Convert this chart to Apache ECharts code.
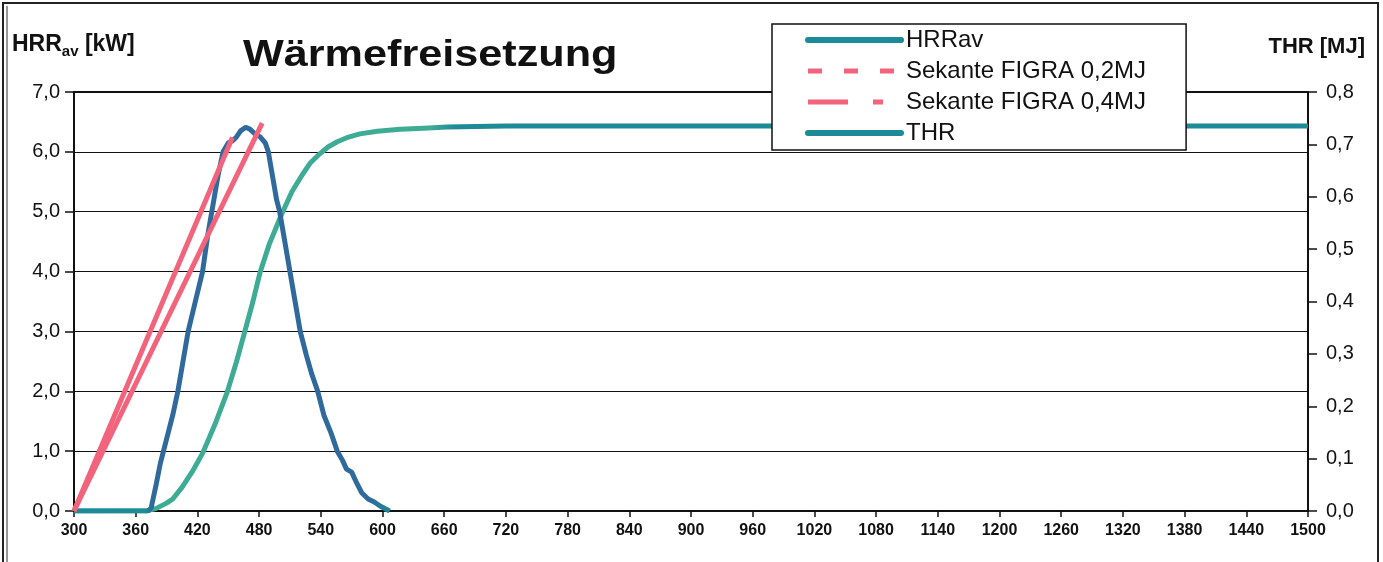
<!DOCTYPE html>
<html><head><meta charset="utf-8">
<script src="https://cdn.jsdelivr.net/npm/echarts@6/dist/echarts.min.js"></script>
<style>html,body{margin:0;padding:0;background:#fff}#c{width:1383px;height:562px}</style>
</head><body><div id="c"></div>
<script>
// ---- data ----
const hrrTime  = [300, 360, 372, 375, 380, 384, 390, 396, 401, 406, 411, 418, 425, 430, 434, 440, 445, 450, 454, 458, 462, 467, 471, 476, 481, 486, 489, 493, 497, 500, 505, 510, 515, 520, 526, 531, 537, 543, 550, 556, 561, 565, 570, 574, 580, 586, 592, 598, 607];
const hrrValue = [0, 0, 0, 0.05, 0.45, 0.8, 1.2, 1.6, 2.0, 2.5, 3.0, 3.5, 4.0, 4.6, 5.0, 5.6, 6.0, 6.15, 6.18, 6.25, 6.35, 6.41, 6.38, 6.3, 6.25, 6.15, 6.0, 5.6, 5.2, 5.0, 4.5, 4.0, 3.5, 3.0, 2.6, 2.3, 2.0, 1.6, 1.3, 1.0, 0.85, 0.7, 0.65, 0.5, 0.3, 0.2, 0.15, 0.08, 0.0];
const thrTime  = [300, 370, 380, 390, 396, 405, 415, 425, 437, 449, 458, 466, 474, 481, 490, 502, 512, 522, 530, 539, 547, 556, 567, 578, 595, 617, 640, 663, 720, 900, 1200, 1500];
const thrValue = [0, 0, 0.005, 0.015, 0.023, 0.045, 0.075, 0.11, 0.165, 0.227, 0.285, 0.342, 0.4, 0.456, 0.51, 0.567, 0.61, 0.642, 0.665, 0.682, 0.695, 0.705, 0.714, 0.72, 0.725, 0.729, 0.731, 0.733, 0.735, 0.735, 0.735, 0.735];
const sec02Time  = [300, 454];
const sec02Value = [0, 6.24];
const sec04Time  = [300, 483];
const sec04Value = [0, 6.48];
const seriesNames = ['HRRav', 'Sekante FIGRA 0,2MJ', 'Sekante FIGRA 0,4MJ', 'THR'];
const xAxisRange = [300, 1500, 60];
const hrrAxisRange = [0, 7, 1];
const thrAxisRange = [0, 0.8, 0.1];

const zip = (a, b) => a.map((t, i) => [t, b[i]]);
const fmt = v => v.toFixed(1).replace('.', ',');
const FONT = "'Liberation Sans', Arial, sans-serif";
const PINK = '#f2637c';
const BLUE = '#306a9c';
const TEAL = '#1d8a98';
const GREEN = '#3eab95';
const noSym = {opacity: 0, color: 'transparent', borderWidth: 0};

const chart = echarts.init(document.getElementById('c'), null, {renderer: 'canvas'});
chart.setOption({
  animation: false,
  backgroundColor: '#fff',
  grid: {left: 74, right: 75, top: 92, bottom: 51, show: true, borderColor: '#111', borderWidth: 2},
  legend: {
    left: 772, top: 24, orient: 'vertical',
    backgroundColor: '#fff', borderColor: '#111', borderWidth: 1.5,
    padding: [4, 40, 5, 33], itemGap: 7, itemWidth: 93, itemHeight: 14,
    textStyle: {fontFamily: FONT, fontSize: 24, color: '#111'},
    data: [
      {name: seriesNames[0], itemStyle: noSym, lineStyle: {width: 6, color: TEAL, cap: 'round'}},
      {name: seriesNames[1], itemStyle: noSym, lineStyle: {type: [14, 22], width: 5, color: PINK}},
      {name: seriesNames[2], itemStyle: noSym, lineStyle: {type: [40, 25, 10, 25], width: 5, color: PINK}},
      {name: seriesNames[3], itemStyle: noSym, lineStyle: {width: 6, color: TEAL, cap: 'round'}}
    ]
  },
  xAxis: {
    type: 'value', min: xAxisRange[0], max: xAxisRange[1], interval: xAxisRange[2],
    axisLine: {show: true, lineStyle: {color: '#111', width: 2}},
    axisTick: {show: true, length: 6, lineStyle: {color: '#111', width: 1.5}},
    splitLine: {show: false},
    axisLabel: {margin: 12, formatter: v => String(v), fontFamily: "'Liberation Sans Narrow', 'Liberation Sans', Arial", fontWeight: 'bold', fontSize: 16, color: '#111'}
  },
  yAxis: [{
    type: 'value', min: hrrAxisRange[0], max: hrrAxisRange[1], interval: hrrAxisRange[2], position: 'left',
    axisLine: {show: true, lineStyle: {color: '#111', width: 2}},
    axisTick: {show: true, length: 9, lineStyle: {color: '#111', width: 1.5}},
    splitLine: {show: true, lineStyle: {color: '#111', width: 1.2}},
    axisLabel: {margin: 14, formatter: fmt, fontFamily: FONT, fontSize: 20, color: '#111'}
  }, {
    type: 'value', min: thrAxisRange[0], max: thrAxisRange[1], interval: thrAxisRange[2], position: 'right',
    axisLine: {show: true, lineStyle: {color: '#111', width: 2}},
    axisTick: {show: true, length: 9, lineStyle: {color: '#111', width: 1.5}},
    splitLine: {show: false},
    axisLabel: {margin: 18, formatter: fmt, fontFamily: FONT, fontSize: 20, color: '#111'}
  }],
  series: [
    {name: seriesNames[3], type: 'line', yAxisIndex: 1, showSymbol: false, symbol: 'none', z: 2,
     data: zip(thrTime, thrValue),
     lineStyle: {width: 5, color: {type: 'linear', x: 0, y: 0, x2: 1, y2: 0,
       colorStops: [{offset: 0, color: TEAL}, {offset: 0.055, color: GREEN}, {offset: 0.29, color: GREEN}, {offset: 0.31, color: TEAL}, {offset: 1, color: TEAL}]}}},
    {name: seriesNames[0], type: 'line', showSymbol: false, symbol: 'none', z: 3,
     data: zip(hrrTime, hrrValue),
     lineStyle: {width: 5, color: {type: 'linear', x: 0, y: 0, x2: 1, y2: 0,
       colorStops: [{offset: 0, color: TEAL}, {offset: 0.23, color: TEAL}, {offset: 0.25, color: BLUE}, {offset: 0.93, color: BLUE}, {offset: 1, color: TEAL}]}}},
    {name: seriesNames[1], type: 'line', showSymbol: false, symbol: 'none', z: 4,
     data: zip(sec02Time, sec02Value), lineStyle: {width: 5, color: PINK}},
    {name: seriesNames[2], type: 'line', showSymbol: false, symbol: 'none', z: 4,
     data: zip(sec04Time, sec04Value), lineStyle: {width: 5, color: PINK}}
  ],
  graphic: [
    {type: 'rect', shape: {x: 3, y: 3, width: 1375, height: 575}, style: {fill: null, stroke: '#222', lineWidth: 2}, silent: true},
    {type: 'line', shape: {x1: 7, y1: 6, x2: 7, y2: 562}, style: {stroke: '#333', lineWidth: 1}, silent: true},
    {type: 'text', left: 243, top: 38, scaleX: 1.2, originX: 243,
     style: {text: 'Wärmefreisetzung', font: "bold 36px 'Liberation Sans', Arial", fill: '#111'}},
    {type: 'text', left: 12, top: 33,
     style: {text: '{a|HRR}{b|av}{a| [kW]}', fill: '#111',
       rich: {a: {font: "bold 23px 'Liberation Sans', Arial", fill: '#111', verticalAlign: 'top', lineHeight: 26},
              b: {font: "bold 15px 'Liberation Sans', Arial", fill: '#111', padding: [11, 0, 0, 0], lineHeight: 26}}}},
    {type: 'text', right: 18, top: 36,
     style: {text: 'THR [MJ]', font: "bold 22px 'Liberation Sans', Arial", fill: '#111'}}
  ]
});
</script></body></html>
